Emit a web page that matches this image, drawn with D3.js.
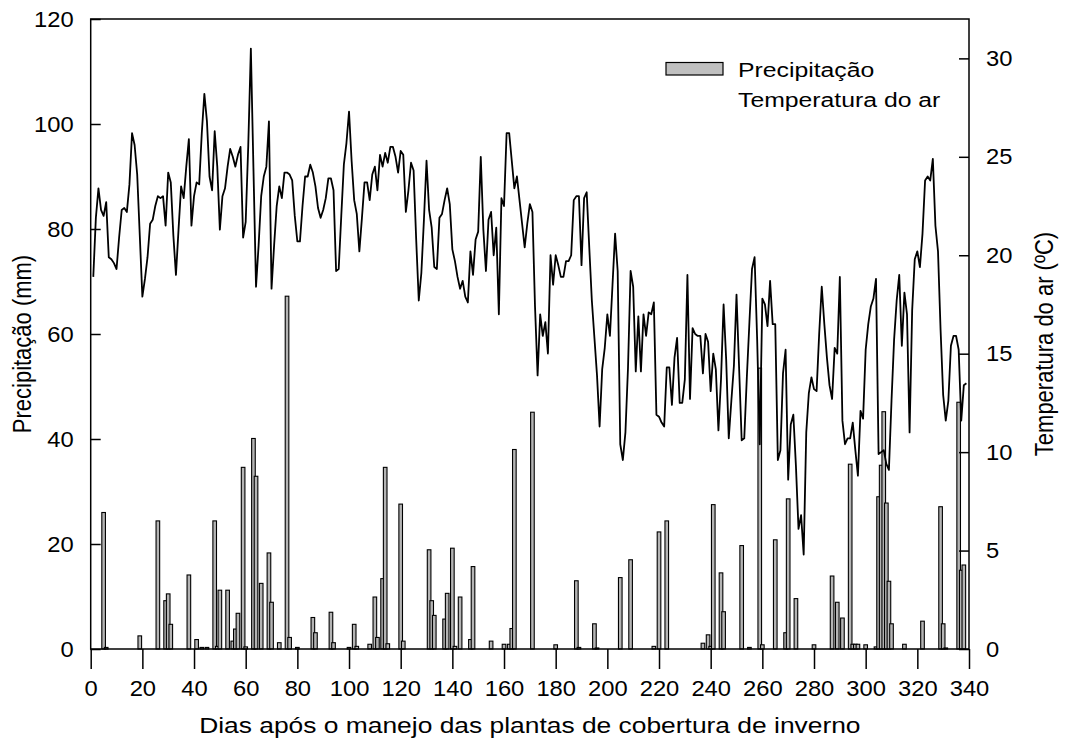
<!DOCTYPE html>
<html>
<head>
<meta charset="utf-8">
<script src="https://cdn.jsdelivr.net/npm/d3@7"></script>
<style>
  body { margin: 0; background: #fff; }
  text { font-family: "Liberation Sans", Arial, sans-serif; fill: #000; }
</style>
</head>
<body>
<svg id="chart" width="1066" height="741"></svg>
<script>
// Daily mean air temperature (ºC), starting on day 1 after cover-crop management
const firstDay = 1;
const airTemp = [
  18.9, 21.9, 23.4, 22.3, 22.0, 22.7, 19.9, 19.8, 19.6, 19.3,
  20.9, 22.3, 22.4, 22.2, 23.6, 26.2, 25.6, 24.1, 21.0, 17.9,
  18.8, 19.9, 21.6, 21.8, 22.5, 23.0, 22.9, 23.0, 21.5, 24.2,
  23.7, 21.0, 19.0, 21.3, 23.5, 22.9, 24.5, 25.9, 21.5, 23.0,
  23.7, 23.6, 26.2, 28.2, 26.8, 24.0, 23.3, 26.3, 24.5, 21.3,
  23.0, 23.4, 24.5, 25.4, 25.0, 24.5, 25.1, 25.5, 20.9, 21.7,
  25.6, 30.5, 24.4, 18.4, 20.5, 23.0, 24.0, 24.5, 26.8, 18.3,
  20.5, 22.5, 23.5, 22.9, 24.2, 24.2, 24.1, 23.8, 22.0, 20.7,
  20.7, 22.5, 24.0, 24.0, 24.6, 24.2, 23.5, 22.4, 21.9, 22.3,
  22.9, 23.9, 23.9, 23.3, 19.2, 19.3, 22.0, 24.6, 25.7, 27.3,
  24.8, 22.8, 22.1, 20.2, 21.9, 23.7, 23.7, 22.8, 24.1, 24.5,
  23.3, 25.1, 24.5, 25.2, 24.7, 25.5, 25.5, 25.0, 24.2, 25.3,
  25.1, 22.2, 23.3, 24.7, 24.3, 20.8, 17.7, 19.1, 21.8, 24.8,
  22.3, 21.4, 19.4, 19.3, 21.9, 22.1, 22.8, 23.4, 22.6, 20.3,
  19.7, 18.9, 18.3, 18.7, 17.9, 17.6, 20.2, 19.0, 20.8, 21.2,
  25.0, 21.3, 19.2, 21.8, 22.2, 20.0, 21.4, 17.0, 22.9, 22.5,
  26.2, 26.2, 24.8, 23.4, 24.0, 22.8, 21.6, 20.4, 21.6, 22.6,
  22.2, 17.4, 13.9, 17.0, 15.9, 16.6, 15.0, 20.0, 18.5, 20.0,
  19.5, 18.9, 18.9, 19.7, 19.7, 20.0, 22.8, 23.0, 23.0, 19.5,
  22.9, 23.2, 20.4, 17.7, 15.8, 13.9, 11.3, 14.2, 15.3, 17.0,
  15.9, 18.5, 21.1, 19.2, 10.4, 9.6, 11.0, 14.3, 19.2, 18.4,
  14.1, 16.9, 14.1, 17.0, 15.9, 17.1, 17.0, 17.6, 11.9, 11.8,
  11.5, 11.3, 14.3, 14.3, 12.4, 14.8, 15.8, 12.5, 12.5, 13.7,
  19.0, 12.7, 16.3, 16.0, 15.9, 15.9, 14.0, 16.0, 15.6, 13.1,
  15.0, 14.2, 11.1, 13.7, 17.5, 14.7, 10.7, 12.6, 14.4, 18.0,
  14.3, 10.6, 10.7, 13.8, 16.6, 19.3, 19.9, 15.7, 10.4, 17.8,
  17.5, 16.4, 18.7, 16.5, 16.5, 9.6, 10.1, 14.0, 15.2, 8.6,
  11.4, 11.9, 9.3, 6.1, 6.8, 4.8, 11.0, 13.0, 13.8, 13.2,
  13.1, 16.0, 18.4, 16.5, 14.8, 13.4, 12.7, 15.3, 15.0, 18.9,
  11.6, 10.4, 10.7, 10.7, 11.5, 10.1, 8.8, 12.1, 11.7, 15.2,
  16.5, 17.4, 17.8, 18.8, 9.9, 10.0, 10.1, 9.4, 9.1, 12.6,
  15.7, 17.7, 19.0, 15.4, 18.1, 17.0, 11.0, 17.2, 19.8, 20.2,
  19.4, 21.1, 23.8, 24.0, 23.8, 24.9, 21.5, 20.2, 16.2, 12.9,
  11.6, 12.6, 15.4, 15.9, 15.9, 15.2, 11.6, 13.4, 13.5
];

// Rain events: day and daily precipitation (mm)
const rainDays = [
  5, 6, 19, 26, 29, 30, 31, 38, 41, 43, 45, 48, 49, 50, 53, 55, 56, 57, 59, 60,
  63, 64, 66, 69, 70, 73, 76, 77, 80, 86, 87, 93, 94, 100, 102, 103, 108, 110, 111, 113,
  114, 115, 120, 121, 131, 132, 133, 137, 138, 140, 141, 143, 147, 148, 155, 160, 162, 163, 164, 171,
  180, 188, 189, 195, 196, 205, 209, 218, 220, 223, 237, 239, 240, 241, 244, 245, 252, 255, 259, 260,
  265, 269, 270, 273, 280, 287, 289, 291, 294, 295, 296, 297, 300, 304, 305, 306, 307, 308, 309, 310,
  315, 322, 329, 330, 331, 336, 337, 338
];
const rainMm = [
  26.0, 0.3, 2.5, 24.4, 9.2, 10.5, 4.7, 14.1, 1.8, 0.3, 0.3, 24.4, 0.5, 11.2, 11.2, 1.5, 3.8, 6.8, 34.6, 0.4,
  40.1, 32.9, 12.5, 18.3, 8.9, 1.2, 67.2, 2.2, 0.3, 6.0, 3.1, 7.0, 1.2, 0.3, 4.7, 0.5, 0.9, 9.9, 2.2, 13.4,
  34.6, 1.0, 27.6, 1.5, 18.9, 9.2, 6.4, 5.7, 10.6, 19.2, 0.5, 9.9, 1.8, 15.7, 1.5, 0.9, 0.9, 3.9, 38.0, 45.1,
  0.8, 13.0, 0.3, 4.8, 0.2, 13.6, 17.0, 0.5, 22.3, 24.4, 1.1, 2.7, 0.5, 27.5, 14.5, 7.1, 19.7, 0.3, 53.5, 0.8,
  20.8, 3.1, 28.6, 9.6, 0.8, 13.9, 8.9, 5.9, 35.2, 0.9, 0.9, 0.9, 0.8, 0.4, 29.0, 35.0, 45.2, 27.8, 12.9, 4.8,
  0.9, 5.3, 27.1, 4.8, 0.2, 47.0, 15.0, 16.0
];

const dayTicks = [0, 20, 40, 60, 80, 100, 120, 140, 160, 180, 200, 220, 240, 260, 280, 300, 320, 340];
const mmTicks = [0, 20, 40, 60, 80, 100, 120];
const tempTicks = [0, 5, 10, 15, 20, 25, 30];

const svg = d3.select("#chart");
const plot = { left: 90.7, right: 969, top: 19, bottom: 649 };

const x = d3.scaleLinear().domain([0, 340]).range([plot.left, plot.right]);
const yMm = d3.scaleLinear().domain([0, 120]).range([plot.bottom, plot.top]);
const yT = d3.scaleLinear().domain([0, 32]).range([plot.bottom, plot.top]);

// Text is set in a slightly wide face: glyphs are widened horizontally
const tickFont = 22, tickWide = 1.08;
const titleFont = 22, titleWide = 1.2;
const legendFont = 21, legendWide = 1.18;

// Precipitation bars
const barW = x(1.4) - x(0);
const rain = rainDays.map((d, i) => ({ day: d, mm: rainMm[i] }));
svg.append("g")
  .selectAll("rect")
  .data(rain)
  .join("rect")
  .attr("x", d => x(d.day) - barW / 2)
  .attr("y", d => yMm(d.mm))
  .attr("width", barW)
  .attr("height", d => yMm(0) - yMm(d.mm))
  .attr("fill", "#b4b4b4")
  .attr("stroke", "#000")
  .attr("stroke-width", 1.1);

// Air temperature line
const temp = airTemp.map((t, i) => ({ day: firstDay + i, t }));
svg.append("path")
  .datum(temp)
  .attr("fill", "none")
  .attr("stroke", "#000")
  .attr("stroke-width", 1.8)
  .attr("stroke-linejoin", "round")
  .attr("d", d3.line().x(d => x(d.day)).y(d => yT(d.t)));

// Frame
svg.append("rect")
  .attr("x", plot.left).attr("y", plot.top)
  .attr("width", plot.right - plot.left).attr("height", plot.bottom - plot.top)
  .attr("fill", "none").attr("stroke", "#000").attr("stroke-width", 1.5);

function styleTicks(g) {
  g.select(".domain").remove();
  g.selectAll("line").attr("stroke", "#000").attr("stroke-width", 1.5);
  g.selectAll("text")
    .attr("font-size", tickFont)
    .attr("font-family", "Liberation Sans, Arial, sans-serif");
}

// Bottom axis
const gx = svg.append("g")
  .attr("transform", `translate(0,${plot.bottom})`)
  .call(d3.axisBottom(x).tickValues(dayTicks).tickSize(20).tickPadding(11).tickFormat(d3.format("d")));
styleTicks(gx);
gx.selectAll("text").attr("transform", `scale(${tickWide},1)`);

// Left axis (precipitation)
const gl = svg.append("g")
  .attr("transform", `translate(${plot.left},0)`)
  .call(d3.axisLeft(yMm).tickValues(mmTicks).tickSizeInner(-10).tickSizeOuter(0));
styleTicks(gl);
gl.selectAll("text").attr("x", -17 / tickWide).attr("transform", `scale(${tickWide},1)`);

// Right axis (temperature)
const gr = svg.append("g")
  .attr("transform", `translate(${plot.right},0)`)
  .call(d3.axisRight(yT).tickValues(tempTicks).tickSizeInner(-10).tickSizeOuter(0));
styleTicks(gr);
gr.selectAll("text").attr("x", 17 / tickWide).attr("transform", `scale(${tickWide},1)`);

// Axis titles
svg.append("text")
  .attr("transform", `translate(${(plot.left + plot.right) / 2},733) scale(${titleWide},1)`)
  .attr("text-anchor", "middle").attr("font-size", titleFont)
  .text("Dias após o manejo das plantas de cobertura de inverno");

svg.append("text")
  .attr("transform", `translate(31,${(plot.top + plot.bottom) / 2 + 10}) scale(${titleWide},1) rotate(-90)`)
  .attr("text-anchor", "middle").attr("font-size", titleFont)
  .text("Precipitação (mm)");

svg.append("text")
  .attr("transform", `translate(1053,${(plot.top + plot.bottom) / 2 + 10}) scale(${titleWide},1) rotate(-90)`)
  .attr("text-anchor", "middle").attr("font-size", titleFont)
  .text("Temperatura do ar (ºC)");

// Legend
const legend = svg.append("g");
legend.append("rect")
  .attr("x", 666).attr("y", 62.5).attr("width", 57).attr("height", 12.5)
  .attr("fill", "#c0c0c0").attr("stroke", "#000").attr("stroke-width", 1.2);
legend.append("text")
  .attr("transform", `translate(738,77) scale(${legendWide},1)`)
  .attr("font-size", legendFont).text("Precipitação");
legend.append("text")
  .attr("transform", `translate(738,107) scale(${legendWide},1)`)
  .attr("font-size", legendFont).text("Temperatura do ar");
</script>
</body>
</html>
